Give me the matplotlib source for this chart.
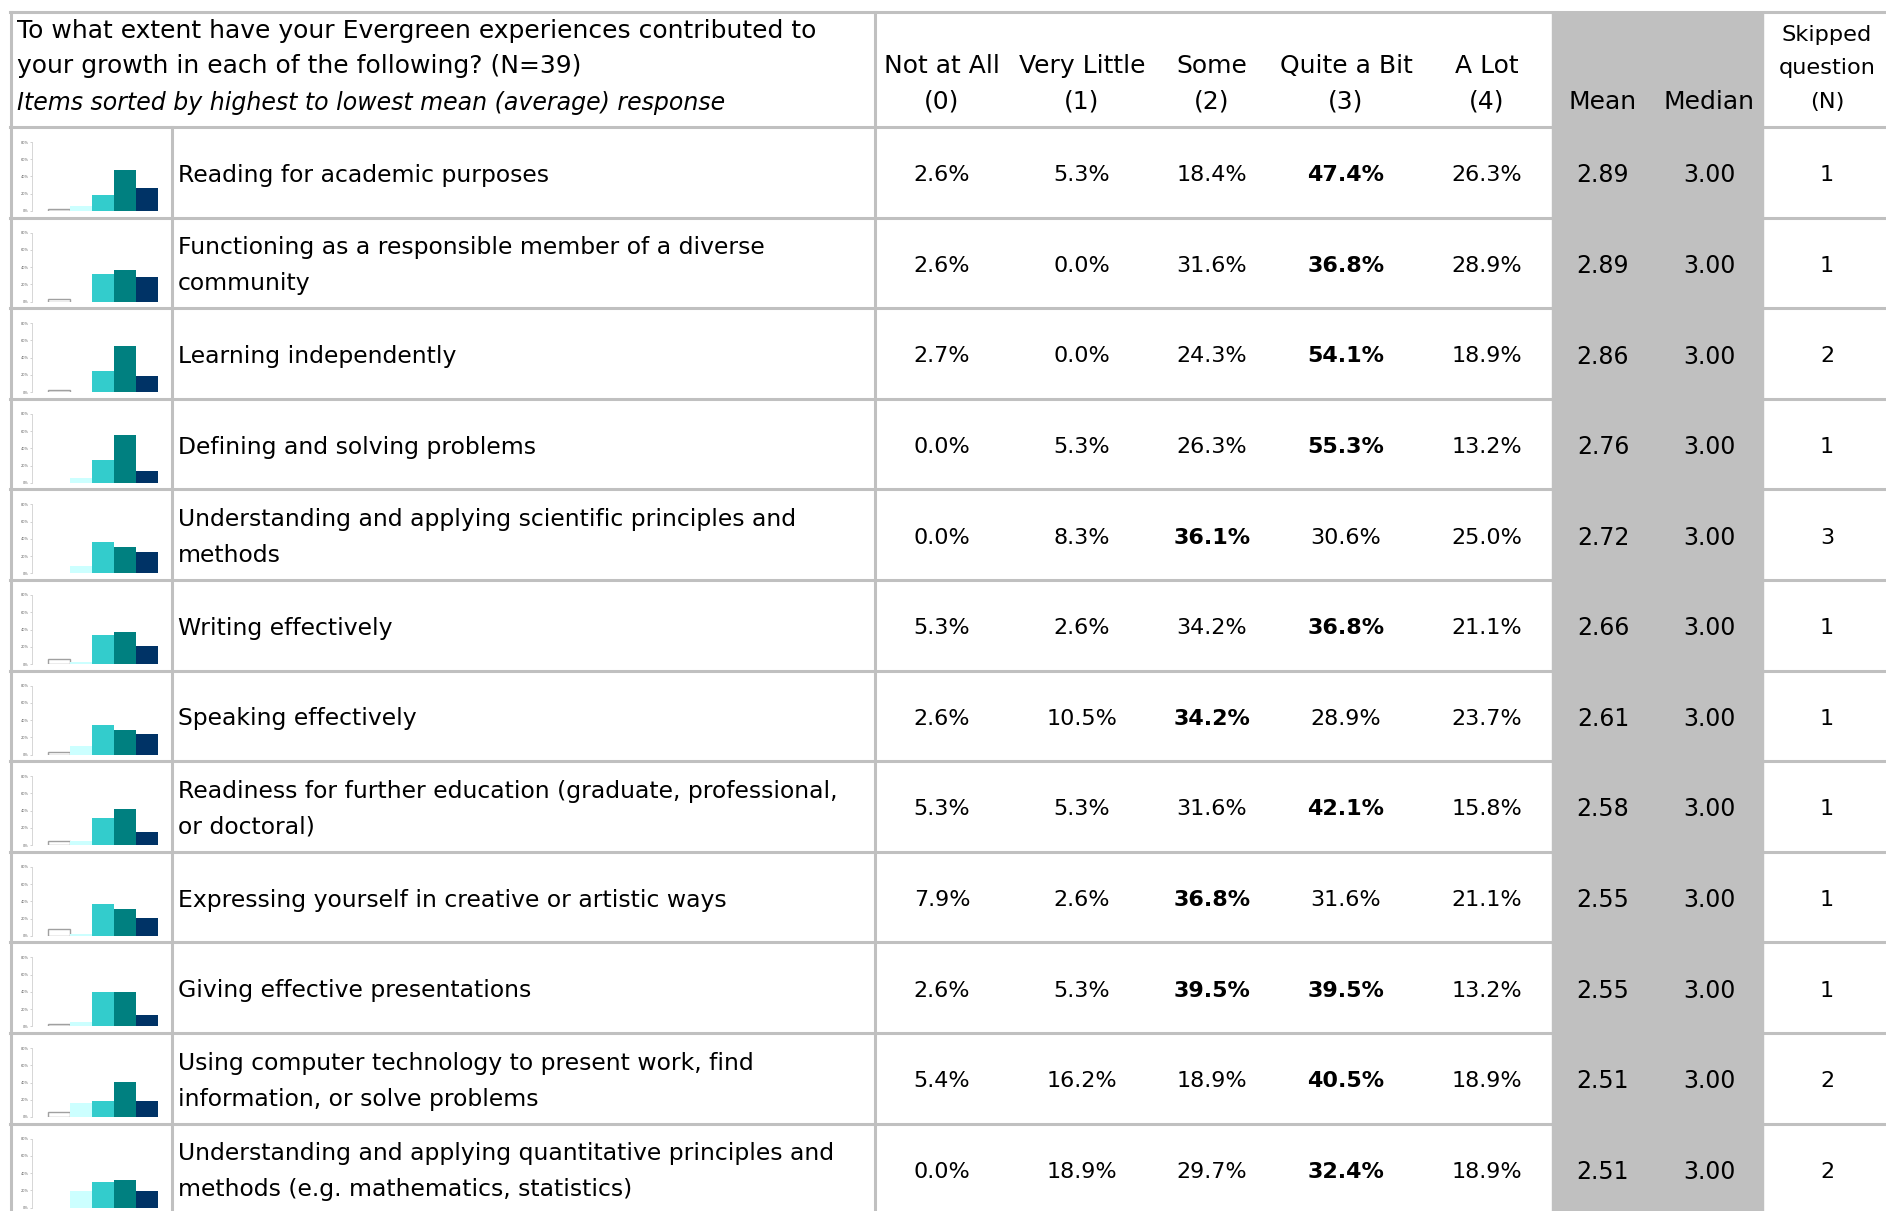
import matplotlib
matplotlib.use('Agg')
import matplotlib.pyplot as plt
import numpy as np

plt.rcParams['font.family'] = ['DejaVu Sans']

# 데이터
items = [
    'Reading for academic purposes',
    'Functioning as a responsible member of a diverse\ncommunity',
    'Learning independently',
    'Defining and solving problems',
    'Understanding and applying scientific principles and\nmethods',
    'Writing effectively',
    'Speaking effectively',
    'Readiness for further education (graduate, professional,\nor doctoral)',
    'Expressing yourself in creative or artistic ways',
    'Giving effective presentations',
    'Using computer technology to present work, find\ninformation, or solve problems',
    'Understanding and applying quantitative principles and\nmethods (e.g. mathematics, statistics)',
]
not_at_all  = [2.6, 2.6, 2.7, 0.0, 0.0, 5.3, 2.6, 5.3, 7.9, 2.6, 5.4, 0.0]
very_little = [5.3, 0.0, 0.0, 5.3, 8.3, 2.6, 10.5, 5.3, 2.6, 5.3, 16.2, 18.9]
some        = [18.4, 31.6, 24.3, 26.3, 36.1, 34.2, 34.2, 31.6, 36.8, 39.5, 18.9, 29.7]
quite_a_bit = [47.4, 36.8, 54.1, 55.3, 30.6, 36.8, 28.9, 42.1, 31.6, 39.5, 40.5, 32.4]
a_lot       = [26.3, 28.9, 18.9, 13.2, 25.0, 21.1, 23.7, 15.8, 21.1, 13.2, 18.9, 18.9]
means   = [2.89, 2.89, 2.86, 2.76, 2.72, 2.66, 2.61, 2.58, 2.55, 2.55, 2.51, 2.51]
medians = [3.00] * 12
skipped = [1, 1, 2, 1, 3, 1, 1, 1, 1, 1, 2, 2]

scale_labels = ['Not at All\n(0)', 'Very Little\n(1)', 'Some\n(2)', 'Quite a Bit\n(3)', 'A Lot\n(4)']
bar_colors = ['white', '#CCFFFF', '#33CCCC', '#008080', '#003366']
question = ['To what extent have your Evergreen experiences contributed to',
            'your growth in each of the following? (N=39)']
subtitle = 'Items sorted by highest to lowest mean (average) response'

W, H = 1886, 1211
fig = plt.figure(figsize=(W / 100, H / 100), dpi=100)
ax = fig.add_axes([0, 0, 1, 1])
ax.set_xlim(0, W)
ax.set_ylim(H, 0)
ax.axis('off')

grid = '#C0C0C0'
lw = 2.2
head_bot = 127
row_h = 90.6
col_x = [942, 1082, 1212, 1346, 1487]
mean_x, median_x, skip_x = 1603, 1709, 1827
gray_l, gray_r = 1552, 1763

# 회색 열 (Mean, Median)
ax.add_patch(plt.Rectangle((gray_l, 13), gray_r - gray_l, H, color=grid, zorder=0))

# 눈금선
ax.plot([10, W], [11.5, 11.5], color=grid, lw=lw)
for i in range(13):
    y = head_bot + i * row_h
    ax.plot([10, gray_l], [y, y], color=grid, lw=lw)
    ax.plot([gray_r, W], [y, y], color=grid, lw=lw)
ax.plot([10.5, 10.5], [11.5, H], color=grid, lw=lw)
ax.plot([172, 172], [head_bot, H], color=grid, lw=lw)
ax.plot([875, 875], [11.5, H], color=grid, lw=lw)

# 헤더
hfs = 18
ax.text(17, 31, question[0], fontsize=hfs, va='center', ha='left')
ax.text(17, 66, question[1], fontsize=hfs, va='center', ha='left')
ax.text(17, 103, subtitle, fontsize=17, va='center', ha='left', style='italic')
for x, lab in zip(col_x, scale_labels):
    top, bot = lab.split('\n')
    ax.text(x, 66, top, fontsize=hfs, ha='center', va='center')
    ax.text(x, 102, bot, fontsize=hfs, ha='center', va='center')
ax.text(mean_x, 102, 'Mean', fontsize=hfs, ha='center', va='center')
ax.text(median_x, 102, 'Median', fontsize=hfs, ha='center', va='center')
for y, t in zip([35, 68, 102], ['Skipped', 'question', '(N)']):
    ax.text(skip_x, y, t, fontsize=16.2, ha='center', va='center')

# 행
lfs, nfs = 16.9, 16
series = np.array([not_at_all, very_little, some, quite_a_bit, a_lot]).T
for i, label in enumerate(items):
    top = head_bot + i * row_h
    cy = top + row_h / 2 + 3
    ax.text(178, cy, label, fontsize=lfs, ha='left', va='center', linespacing=1.72)
    vals = series[i]
    vmax = vals.max()
    for x, v in zip(col_x, vals):
        ax.text(x, cy, f'{v:.1f}%', fontsize=nfs, ha='center', va='center',
                fontweight='bold' if v == vmax else 'normal')
    ax.text(mean_x, cy, f'{means[i]:.2f}', fontsize=17, ha='center', va='center')
    ax.text(median_x, cy, f'{medians[i]:.2f}', fontsize=17, ha='center', va='center')
    ax.text(skip_x, cy, str(skipped[i]), fontsize=nfs, ha='center', va='center')

    # 미니 막대그래프
    y0, y1 = top + 84, top + 15
    sub = fig.add_axes([32 / W, 1 - y0 / H, (166 - 32) / W, (y0 - y1) / H])
    edges = ['#A0A0A0' if (k == 0 and v > 0) else 'none' for k, v in enumerate(vals)]
    sub.bar(np.arange(5), vals, width=1.0, color=bar_colors, edgecolor=edges, linewidth=1)
    sub.set_xlim(-1.227, 4.86)
    sub.set_ylim(0, 80)
    sub.set_yticks([0, 20, 40, 60, 80])
    sub.set_yticklabels(['0%', '20%', '40%', '60%', '80%'], fontsize=2.5, color='#606060')
    sub.tick_params(axis='y', length=1.5, width=0.5, color='#C0C0C0', pad=1)
    sub.set_xticks([])
    for s in ['top', 'right', 'bottom']:
        sub.spines[s].set_visible(False)
    sub.spines['left'].set_color('#D0D0D0')
    sub.spines['left'].set_linewidth(0.6)
    sub.patch.set_alpha(0)

fig.savefig('out.png', dpi=100)
